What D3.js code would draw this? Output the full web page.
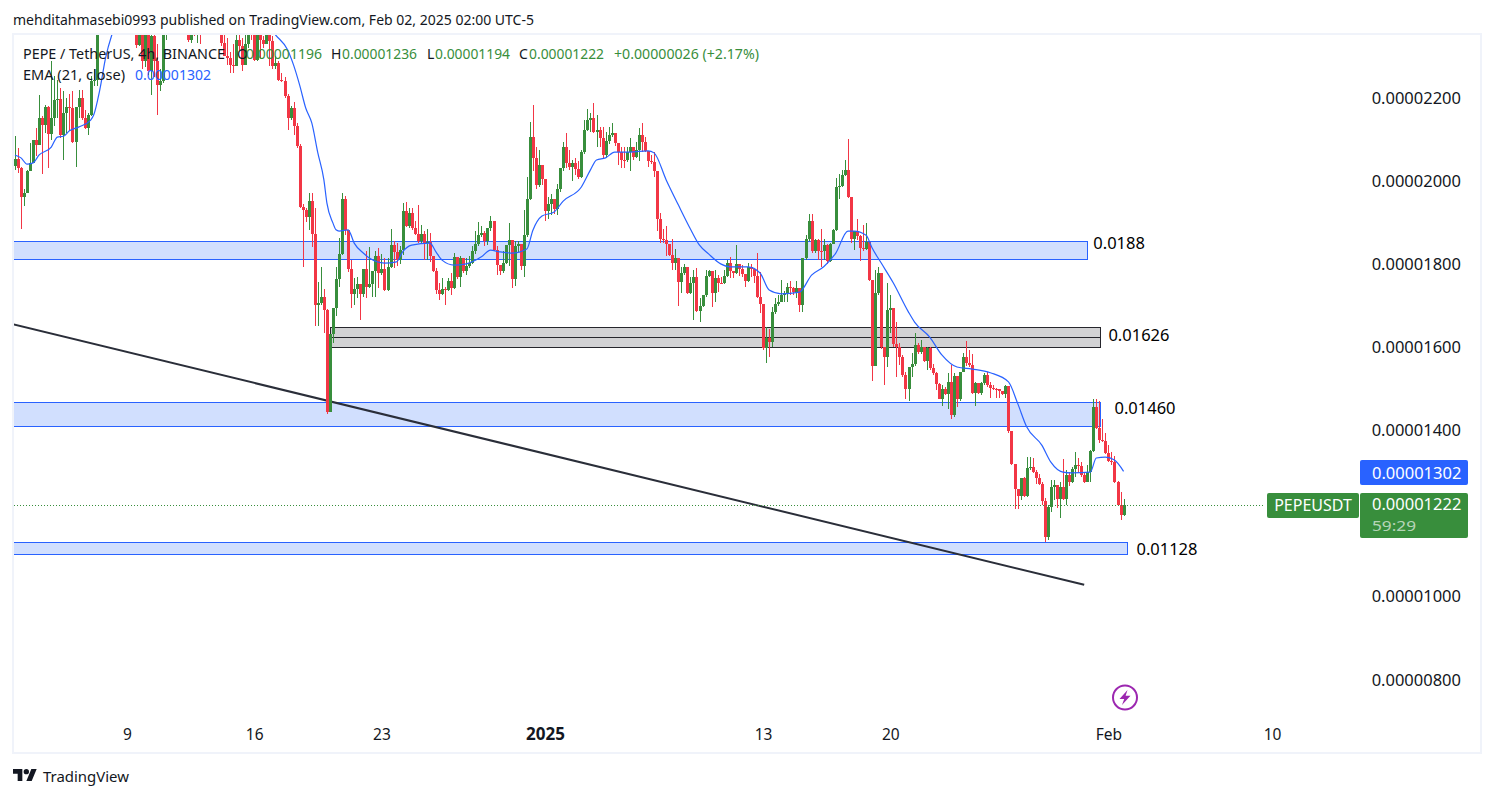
<!DOCTYPE html>
<html>
<head>
<meta charset="utf-8">
<script src="https://cdn.jsdelivr.net/npm/d3@7/dist/d3.min.js"></script>
<style>
html,body{margin:0;padding:0;background:#fff;overflow:hidden}
text{font-family:"Noto Sans",sans-serif}
</style>
</head>
<body>
<svg id="chart" width="1494" height="798"></svg>
<script>
// prices are in units of 0.00000001 USDT; 4h bars from firstBar
const firstBar = Date.UTC(2024, 11, 2, 20);
const barMs = 4 * 3600 * 1000;
const firstOpen = 2037;
const closes = [
2053,2032,1962,1972,2024,2044,2098,2088,2152,2136,
2178,2114,2152,2196,2198,2112,2164,2178,2176,2093,
2178,2200,2152,2128,2160,2240,2244,2375,2440,2500,
2470,2520,2560,2530,2590,2570,2600,2540,2470,2420,
2328,2352,2290,2360,2264,2350,2290,2232,2240,2352,
2400,2440,2480,2420,2450,2500,2470,2340,2390,2360,
2390,2370,2420,2440,2390,2420,2460,2420,2332,2300,
2296,2280,2278,2340,2324,2280,2330,2390,2370,2292,
2352,2340,2330,2370,2336,2276,2284,2244,2242,2204,
2152,2176,2132,2084,1939,1931,1913,1953,1873,1702,
1706,1722,1690,1445,1632,1694,1765,1825,1957,1883,
1788,1729,1740,1753,1729,1789,1745,1753,1785,1820,
1778,1789,1738,1793,1847,1829,1811,1835,1928,1893,
1923,1887,1873,1855,1873,1851,1853,1820,1785,1737,
1729,1740,1738,1760,1744,1817,1769,1815,1785,1796,
1804,1831,1849,1871,1875,1855,1887,1904,1835,1799,
1785,1802,1847,1859,1765,1845,1848,1795,1871,1958,
2107,2056,1990,2039,2004,1928,1946,1956,1933,1981,
2031,2083,2043,2033,2044,2030,2011,2069,2123,2148,
2151,2119,2124,2104,2063,2097,2111,2116,2092,2069,
2052,2050,2071,2083,2059,2075,2112,2095,2073,2049,
2047,2024,1909,1861,1858,1850,1822,1802,1814,1758,
1780,1794,1730,1756,1770,1688,1700,1726,1772,1785,
1732,1766,1756,1755,1772,1802,1785,1778,1801,1788,
1777,1760,1794,1788,1772,1722,1704,1598,1622,1614,
1686,1704,1710,1726,1732,1746,1744,1734,1742,1702,
1814,1860,1904,1832,1858,1833,1831,1846,1809,1849,
1882,1987,1988,2015,2028,1963,1861,1881,1869,1838,
1837,1854,1762,1555,1730,1780,1600,1576,1691,1694,
1608,1602,1578,1534,1499,1554,1560,1606,1588,1600,
1568,1598,1550,1538,1512,1477,1501,1489,1518,1437,
1531,1477,1542,1576,1562,1558,1491,1515,1491,1515,
1534,1510,1502,1500,1499,1496,1488,1507,1400,1319,
1259,1243,1285,1243,1309,1313,1301,1285,1272,1231,
1143,1217,1264,1269,1235,1265,1235,1293,1277,1307,
1317,1315,1293,1277,1301,1351,1456,1405,1377,1375,
1345,1328,1325,1277,1221,1196,1222];
const highs = [
2108,2080,2034,1980,2026,2092,2098,2128,2208,2156,
2184,2180,2288,2252,2244,2224,2216,2200,2210,2218,
2178,2220,2220,2172,2164,2252,2270,2420,2480,2530,
2540,2560,2600,2610,2640,2620,2650,2620,2560,2490,
2430,2420,2360,2400,2380,2400,2380,2330,2270,2400,
2440,2480,2510,2500,2490,2530,2520,2480,2420,2400,
2420,2420,2460,2480,2470,2450,2490,2480,2450,2360,
2345,2310,2330,2370,2360,2345,2360,2420,2400,2390,
2400,2370,2350,2400,2370,2350,2300,2290,2260,2250,
2210,2180,2190,2140,2090,1945,1935,1971,1972,1935,
1758,1794,1740,1692,1632,1694,1794,1863,1971,1965,
1788,1811,1766,1770,1729,1789,1831,1841,1785,1833,
1839,1825,1815,1815,1884,1855,1851,1845,1947,1951,
1935,1935,1905,1943,1895,1879,1885,1876,1820,1790,
1754,1766,1746,1766,1778,1828,1817,1819,1815,1815,
1819,1843,1879,1901,1891,1880,1887,1917,1904,1843,
1799,1831,1847,1899,1859,1855,1855,1848,1931,2010,
2143,2183,2083,2075,2039,2004,1962,1970,1956,1994,
2031,2095,2116,2075,2052,2055,2049,2075,2147,2173,
2163,2187,2159,2131,2131,2119,2131,2139,2116,2092,
2083,2083,2083,2104,2083,2095,2127,2139,2107,2073,
2063,2071,2024,1924,1886,1892,1850,1860,1836,1814,
1794,1801,1794,1770,1786,1790,1720,1726,1786,1787,
1785,1786,1774,1770,1786,1810,1818,1785,1846,1801,
1798,1777,1802,1801,1788,1828,1782,1704,1650,1645,
1698,1718,1725,1762,1736,1754,1760,1746,1760,1738,
1814,1870,1922,1922,1862,1862,1886,1860,1849,1852,
1884,2007,2016,2027,2052,2101,1963,1881,1910,1870,
1894,1900,1854,1762,1786,1794,1780,1600,1756,1726,
1694,1662,1610,1582,1540,1554,1586,1634,1610,1618,
1600,1600,1600,1560,1542,1515,1510,1505,1538,1558,
1539,1531,1542,1586,1615,1594,1584,1518,1515,1518,
1538,1542,1518,1510,1502,1500,1494,1510,1507,1400,
1319,1260,1285,1288,1337,1336,1333,1305,1295,1277,
1237,1221,1281,1281,1270,1277,1331,1305,1301,1313,
1349,1333,1325,1297,1317,1353,1475,1476,1470,1429,
1395,1365,1349,1339,1279,1253,1236];
const lows = [
2026,2020,1884,1940,1972,2024,2044,2060,2088,2018,
2116,2032,2100,2132,2152,2104,2052,2116,2120,2092,
2034,2152,2148,2125,2110,2157,2230,2230,2370,2420,
2440,2450,2490,2500,2510,2530,2540,2500,2440,2380,
2320,2324,2270,2275,2255,2208,2250,2160,2216,2236,
2340,2380,2420,2390,2400,2420,2420,2335,2332,2350,
2332,2330,2360,2390,2370,2370,2400,2380,2325,2316,
2280,2260,2260,2280,2316,2264,2292,2320,2340,2288,
2288,2296,2320,2330,2276,2270,2270,2240,2238,2200,
2124,2148,2112,2080,1935,1793,1902,1882,1842,1652,
1652,1702,1634,1441,1445,1610,1676,1746,1822,1871,
1782,1694,1702,1718,1666,1722,1720,1742,1722,1721,
1742,1774,1736,1736,1790,1790,1796,1800,1823,1890,
1888,1883,1871,1852,1850,1811,1811,1806,1782,1729,
1714,1726,1702,1736,1725,1740,1765,1746,1778,1774,
1792,1800,1825,1845,1866,1844,1847,1880,1831,1774,
1774,1780,1800,1795,1744,1748,1830,1786,1770,1865,
1954,2024,1982,1985,1990,1905,1910,1918,1922,1918,
1975,2025,2031,2028,2001,2015,2005,2008,2065,2120,
2118,2115,2083,2083,2055,2055,2090,2105,2085,2039,
2031,2031,2045,2024,2052,2055,2049,2071,2070,2035,
2042,2009,1881,1852,1852,1820,1820,1786,1786,1700,
1730,1775,1728,1728,1666,1686,1662,1698,1722,1770,
1698,1710,1734,1752,1752,1770,1768,1766,1776,1772,
1770,1746,1758,1770,1754,1718,1683,1595,1562,1576,
1600,1680,1700,1710,1710,1710,1725,1725,1718,1686,
1686,1810,1855,1828,1828,1810,1794,1810,1800,1805,
1848,1880,1956,1985,2012,1960,1852,1834,1858,1809,
1832,1834,1760,1520,1555,1725,1596,1510,1552,1634,
1600,1528,1558,1530,1475,1472,1530,1555,1585,1585,
1565,1546,1546,1534,1497,1475,1459,1485,1453,1429,
1433,1457,1470,1540,1555,1552,1488,1459,1488,1485,
1510,1505,1478,1498,1478,1478,1486,1478,1393,1317,
1211,1211,1233,1241,1241,1305,1297,1272,1269,1221,
1133,1137,1205,1233,1213,1189,1233,1221,1267,1273,
1289,1297,1289,1275,1277,1277,1349,1403,1369,1373,
1344,1325,1317,1273,1219,1185,1194];
if (closes.length !== highs.length || closes.length !== lows.length) throw new Error("lengths " + closes.length + " " + highs.length + " " + lows.length);

// EMA(21) at these bar numbers
const emaBars = [0,2,4,6,8,12,14,16,18,21,25,26,28,30,32,34,40,50,60,70,80,86,90,92,94,96,98,100,102,103,105,106,107,110,112,115,117,122,126,128,131,137,139,141,145,149,154,157,160,164,169,171,174,178,181,187,190,192,195,198,203,209,211,215,219,223,226,229,233,236,242,246,249,253,259,263,267,271,275,277,281,283,286,290,295,297,302,306,311,316,322,328,331,334,339,342,346,349,355,357,360,363,366];
const emaValues = [2063,2056,2041,2044,2063,2082,2106,2108,2121,2130,2147,2159,2219,2299,2352,2390,2470,2510,2520,2500,2410,2352,2316,2279,2231,2176,2140,2068,2003,1947,1899,1883,1880,1883,1851,1827,1815,1803,1806,1830,1846,1851,1830,1810,1798,1801,1818,1834,1830,1827,1837,1882,1916,1926,1952,1986,2027,2051,2056,2070,2070,2073,2068,2003,1943,1885,1846,1825,1801,1794,1794,1779,1738,1729,1733,1774,1794,1827,1880,1880,1870,1839,1803,1755,1685,1661,1625,1582,1553,1548,1539,1517,1466,1409,1365,1324,1300,1298,1300,1334,1336,1329,1302];

// drawings
const zoneStarts = ["2024-12-02T12:00Z","2024-12-20T04:00Z","2024-12-02T12:00Z","2024-12-02T12:00Z"];
const zoneEnds   = ["2025-01-30T20:00Z","2025-01-31T13:00Z","2025-01-31T13:00Z","2025-02-02T01:00Z"];
const zoneTops    = [1856,1649,1469,1132];
const zoneBottoms = [1813,1601,1412,1103];
const zoneFills   = ["#d1dffe","#d2d2d4","#d1dffe","#d1dffe"];
const zoneStrokes = ["#2962ff","#26262c","#2962ff","#2962ff"];
const zoneMiddles = [null,1625,null,null];
const levelLabels = ["0.0188","0.01626","0.01460","0.01128"];
const levelLabelPrices = [1837,1615,1440,1101];
const levelLabelDates = ["2025-01-31T04:00Z","2025-02-01T00:00Z","2025-02-01T08:00Z","2025-02-02T13:00Z"];
const trendDates = ["2024-12-02T17:00Z","2025-01-30T16:00Z"];
const trendPrices = [1656,1029];

const priceTicks = [2200,2000,1800,1600,1400,1000,800];
const dateTicks = ["2024-12-09","2024-12-16","2024-12-23","2025-01-01","2025-01-13","2025-01-20","2025-02-01","2025-02-10"];
const dateLabels = ["9","16","23","2025","13","20","Feb","10"];
const lastClose = 1222, lastEma = 1302;

const x = d3.scaleUtc().domain([new Date("2024-12-09"), new Date("2025-02-10")]).range([127, 1272]);
const y = d3.scaleLinear().domain([800, 2200]).range([680, 98]);
const fmt = v => (v * 1e-8).toFixed(8);

const svg = d3.select("#chart");
const dark = "#131722", green = "#388e3c", red = "#f23645", blue = "#2962ff";
svg.append("rect").attr("width",1494).attr("height",798).attr("fill","#fff");

const defs = svg.append("defs");
defs.append("clipPath").attr("id","plot").append("rect").attr("x",14).attr("y",35).attr("width",1466).attr("height",718);

const plot = svg.append("g").attr("clip-path","url(#plot)");

// zones
const zones = plot.append("g");
zoneTops.forEach((t,i)=>{
  const x0 = x(new Date(zoneStarts[i])), x1 = x(new Date(zoneEnds[i]));
  const yt = Math.round(y(t))+0.5, yb = Math.round(y(zoneBottoms[i]))+0.5;
  zones.append("rect").attr("x",Math.round(x0)+0.5).attr("y",yt).attr("width",Math.round(x1-x0)).attr("height",yb-yt)
    .attr("fill",zoneFills[i]).attr("stroke",zoneStrokes[i]).attr("stroke-width",1);
  if (zoneMiddles[i]!==null){
    const ym = Math.round(y(zoneMiddles[i]))+0.5;
    zones.append("line").attr("x1",x0).attr("x2",x1).attr("y1",ym).attr("y2",ym).attr("stroke",zoneStrokes[i]);
  }
});

// trend line
plot.append("line")
  .attr("x1",x(new Date(trendDates[0]))).attr("y1",y(trendPrices[0]))
  .attr("x2",x(new Date(trendDates[1]))).attr("y2",y(trendPrices[1]))
  .attr("stroke","#2a2e39").attr("stroke-width",2);

// last-price dotted line
svg.append("line").attr("x1",14).attr("x2",1265).attr("y1",Math.round(y(lastClose))+0.5).attr("y2",Math.round(y(lastClose))+0.5)
  .attr("stroke",green).attr("stroke-width",1).attr("stroke-dasharray","1 2");

// candles
const bars = closes.map((c,i)=>{
  const o = i ? closes[i-1] : firstOpen;
  return {o, c, h: Math.max(highs[i],o,c), l: Math.min(lows[i],o,c), t: new Date(firstBar + i*barMs)};
});
const candle = plot.append("g").attr("shape-rendering","crispEdges").selectAll("g").data(bars).join("g")
  .attr("fill", d => d.c >= d.o ? green : red);
candle.append("rect").attr("x", d=>Math.round(x(d.t))).attr("width",1)
  .attr("y", d=>y(d.h)).attr("height", d=>Math.max(1,y(d.l)-y(d.h)));
candle.append("rect").attr("x", d=>Math.round(x(d.t))-1).attr("width",3)
  .attr("y", d=>y(Math.max(d.o,d.c))).attr("height", d=>Math.max(1,Math.abs(y(d.o)-y(d.c))));

// EMA
plot.append("path")
  .datum(emaBars.map((b,i)=>[new Date(firstBar+b*barMs), emaValues[i]]))
  .attr("fill","none").attr("stroke",blue).attr("stroke-width",1.2)
  .attr("d", d3.line().curve(d3.curveMonotoneX).x(d=>x(d[0])).y(d=>y(d[1])));

// level labels
levelLabels.forEach((t,i)=>{
  svg.append("text").attr("x",x(new Date(levelLabelDates[i]))).attr("y",y(levelLabelPrices[i]))
    .attr("font-size",16.5).attr("fill","#000").text(t);
});

// axes
const yAxis = d3.axisRight(y).tickValues(priceTicks).tickSize(0).tickFormat(fmt);
const yg = svg.append("g").attr("transform","translate(1461,0)").call(yAxis);
yg.select(".domain").remove();
yg.selectAll("text").attr("x",0).attr("dy","0.31em").attr("text-anchor","end")
  .attr("font-size",16.5).attr("font-family",'"Noto Sans",sans-serif').attr("fill",dark);

const xAxis = d3.axisBottom(x).tickValues(dateTicks.map(d=>new Date(d))).tickSize(0).tickFormat((d,i)=>dateLabels[i]);
const xg = svg.append("g").attr("transform","translate(0,734)").call(xAxis);
xg.select(".domain").remove();
xg.selectAll("text").attr("y",0).attr("dy","0.36em")
  .attr("font-size",d=>+d===+new Date("2025-01-01")?17:15.5)
  .attr("font-weight",d=>+d===+new Date("2025-01-01")?700:400)
  .attr("font-family",'"Noto Sans",sans-serif').attr("fill",dark);

// frame
svg.append("rect").attr("x",13).attr("y",34).attr("width",1468).attr("height",719)
  .attr("fill","none").attr("stroke","#f0f3fa").attr("stroke-width",2);

// header + legend
function label(tx,ty,s,fill,size,len){
  const n = svg.append("text").attr("x",tx).attr("y",ty).attr("fill",fill).attr("font-size",size).text(s);
  if (len) n.attr("textLength",len).attr("lengthAdjust","spacingAndGlyphs");
  return n;
}
label(13,25,"mehditahmasebi0993 published on TradingView.com, Feb 02, 2025 02:00 UTC-5",dark,14.5,521);
label(23,59,"PEPE / TetherUS, 4h, BINANCE",dark,14,202);
label(237,59,"O",dark,14);
label(246,59,fmt(1196),green,14,76);
label(331,59,"H",dark,14);
label(342,59,fmt(1236),green,14,75);
label(427,59,"L",dark,14);
label(435,59,fmt(1194),green,14,75);
label(519,59,"C",dark,14);
label(529,59,fmt(lastClose),green,14,75);
label(614,59,"+0.00000026 (+2.17%)",green,14,145);
label(23,80,"EMA (21, close)",dark,14,102);
label(135,80,fmt(lastEma),blue,14,76);

// price tags
svg.append("rect").attr("x",1360).attr("y",460).attr("width",108).attr("height",25).attr("rx",2).attr("fill",blue);
label(1372,478.5,fmt(lastEma),"#fff",16.5);
svg.append("rect").attr("x",1267).attr("y",493).attr("width",92).attr("height",25).attr("rx",2).attr("fill",green);
svg.append("text").attr("x",1313).attr("y",511).attr("text-anchor","middle").attr("fill","#fff").attr("font-size",16).text("PEPEUSDT");
svg.append("rect").attr("x",1360).attr("y",493).attr("width",108).attr("height",45).attr("rx",2).attr("fill",green);
label(1372,510,fmt(lastClose),"#fff",16.5);
label(1372,531,"59:29","#fff",15,44).attr("fill-opacity",0.65);

// lightning icon
const icon = svg.append("g").attr("transform","translate(1125,697.5)");
icon.append("circle").attr("r",12).attr("fill","#fff").attr("stroke","#9c27b0").attr("stroke-width",2);
icon.append("path").attr("d","M2.5-7.5L-5.5 1.5H-0.8L-3 7.5L5.5-1.8H0.6z").attr("fill","#9c27b0");

// logo
const logo = svg.append("g").attr("transform","translate(13,766.3) scale(0.667)").attr("fill",dark);
logo.append("path").attr("d","M14 22H7V11H0V4h14v18zM28 22h-8l7.5-18h8L28 22z");
logo.append("circle").attr("cx",20).attr("cy",8).attr("r",4);
label(43,782,"TradingView",dark,15.3,86);
</script>
</body>
</html>
